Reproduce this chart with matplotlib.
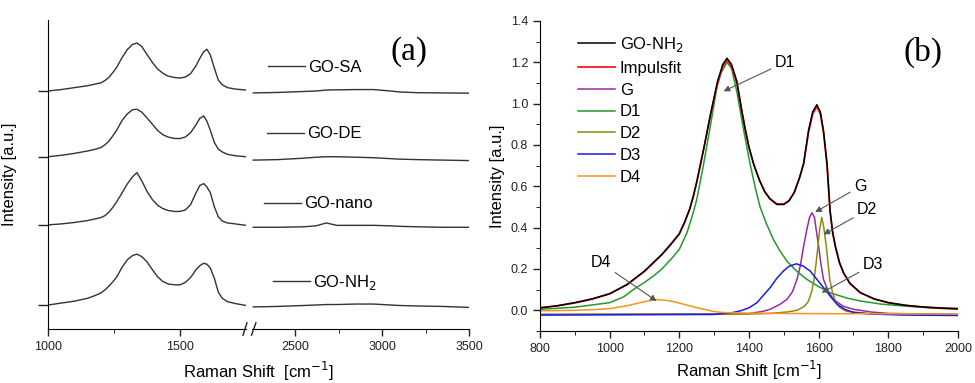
import matplotlib
matplotlib.use("Agg")
import matplotlib.pyplot as plt
from matplotlib.lines import Line2D

plt.rcParams['font.family'] = ['Liberation Sans', 'DejaVu Sans']

# ---- panel (a): stacked spectra, broken x axis ----
a_names = ['GO-SA', 'GO-DE', 'GO-nano', 'GO-NH$_2$']
a_offsets = [4.96, 3.59, 2.17, 0.5]

a_x_low = [1000, 1050, 1100, 1150, 1175, 1200, 1215, 1230, 1245, 1260, 1280, 1300,
           1320, 1337, 1355, 1375, 1395, 1415, 1435, 1455, 1480, 1500, 1520, 1540,
           1560, 1575, 1590, 1602, 1615, 1630, 1645, 1660, 1680, 1710, 1750]
a_sa_low = [0.0, 0.03, 0.07, 0.11, 0.14, 0.17, 0.215, 0.28, 0.38, 0.49, 0.69, 0.86,
            0.97, 1.0, 0.93, 0.76, 0.6, 0.46, 0.37, 0.31, 0.28, 0.27, 0.29, 0.36,
            0.52, 0.68, 0.82, 0.87, 0.75, 0.48, 0.23, 0.13, 0.07, 0.04, 0.02]
a_de_low = [0.0, 0.03, 0.07, 0.12, 0.15, 0.19, 0.245, 0.32, 0.43, 0.55, 0.75, 0.89,
            0.98, 0.99, 0.93, 0.81, 0.68, 0.55, 0.46, 0.41, 0.38, 0.38, 0.41, 0.5,
            0.66, 0.8, 0.85, 0.74, 0.55, 0.3, 0.16, 0.1, 0.05, 0.02, 0.0]
a_nano_low = [0.0, 0.02, 0.05, 0.09, 0.12, 0.15, 0.19, 0.26, 0.36, 0.48, 0.66, 0.85,
              1.0, 1.09, 0.92, 0.7, 0.53, 0.41, 0.34, 0.3, 0.28, 0.28, 0.31, 0.42,
              0.66, 0.82, 0.86, 0.79, 0.67, 0.38, 0.17, 0.08, 0.04, 0.02, -0.01]
a_nh2_low = [0.0, 0.04, 0.08, 0.14, 0.19, 0.25, 0.31, 0.39, 0.48, 0.58, 0.78, 0.94,
             1.03, 1.06, 1.01, 0.9, 0.74, 0.59, 0.49, 0.44, 0.42, 0.42, 0.47, 0.57,
             0.73, 0.82, 0.87, 0.85, 0.77, 0.56, 0.27, 0.14, 0.07, 0.03, -0.01]

a_x_high = [2260, 2400, 2550, 2620, 2680, 2740, 2850, 2950, 3050, 3100, 3200, 3350, 3500]
a_sa_high = [-0.04, -0.03, -0.01, 0.0, 0.02, 0.025, 0.03, 0.03, 0.0, -0.02, -0.035, -0.04, -0.045]
a_de_high = [-0.07, -0.06, -0.03, -0.01, 0.0, 0.0, -0.01, -0.02, -0.04, -0.05, -0.06, -0.07, -0.08]
a_nano_high = [-0.05, -0.05, -0.04, -0.02, 0.04, -0.01, -0.01, -0.01, -0.02, -0.03, -0.04, -0.05, -0.05]
a_nh2_high = [-0.04, -0.03, -0.01, 0.0, 0.01, 0.01, 0.02, 0.02, 0.0, -0.01, -0.02, -0.03, -0.05]

a_low = [a_sa_low, a_de_low, a_nano_low, a_nh2_low]
a_high = [a_sa_high, a_de_high, a_nano_high, a_nh2_high]

# ---- panel (b): GO-NH2 peak fit ----
b_x_data = [800, 850, 900, 950, 1000, 1050, 1100, 1150, 1175, 1200, 1215, 1230, 1240,
            1250, 1270, 1290, 1310, 1325, 1337, 1350, 1365, 1380, 1390, 1400, 1413,
            1430, 1445, 1460, 1480, 1500, 1515, 1530, 1545, 1557, 1571, 1583, 1595,
            1605, 1614, 1624, 1633, 1640, 1648, 1660, 1672, 1690, 1720, 1760,
            1800, 1850, 1900, 1950, 2000]
b_data = [0.012, 0.022, 0.037, 0.055, 0.08, 0.125, 0.19, 0.27, 0.318, 0.37, 0.425,
          0.49, 0.55, 0.62, 0.78, 0.95, 1.11, 1.19, 1.22, 1.19, 1.11, 0.96, 0.87,
          0.79, 0.71, 0.63, 0.575, 0.54, 0.512, 0.512, 0.53, 0.57, 0.64, 0.71, 0.87,
          0.96, 0.995, 0.96, 0.87, 0.71, 0.48, 0.38, 0.31, 0.23, 0.18, 0.13, 0.085,
          0.055, 0.037, 0.024, 0.016, 0.011, 0.008]
b_fit = [0.012, 0.022, 0.036, 0.055, 0.08, 0.124, 0.188, 0.27, 0.318, 0.37, 0.425,
         0.49, 0.55, 0.62, 0.78, 0.95, 1.1, 1.18, 1.21, 1.18, 1.1, 0.96, 0.87,
         0.79, 0.71, 0.63, 0.575, 0.54, 0.515, 0.515, 0.53, 0.57, 0.64, 0.71, 0.86,
         0.95, 0.985, 0.95, 0.86, 0.71, 0.48, 0.38, 0.31, 0.23, 0.18, 0.13, 0.085,
         0.055, 0.037, 0.024, 0.016, 0.011, 0.008]

b_x_d1 = [800, 900, 1000, 1040, 1068, 1100, 1126, 1150, 1183, 1200, 1222, 1237, 1250,
          1269, 1289, 1308, 1320, 1337, 1350, 1365, 1384, 1403, 1420, 1432, 1450,
          1470, 1490, 1509, 1540, 1566, 1600, 1633, 1680, 1720, 1780, 1844, 1920, 2000]
b_d1 = [0.005, 0.015, 0.037, 0.065, 0.1, 0.135, 0.166, 0.2, 0.26, 0.295, 0.375, 0.455,
        0.535, 0.7, 0.89, 1.08, 1.15, 1.2, 1.17, 1.06, 0.88, 0.71, 0.58, 0.5, 0.42,
        0.343, 0.285, 0.238, 0.185, 0.15, 0.115, 0.085, 0.06, 0.045, 0.03, 0.021,
        0.012, 0.005]

b_x_g = [800, 1300, 1400, 1440, 1461, 1490, 1509, 1525, 1538, 1548, 1557, 1566,
         1574, 1581, 1588, 1594, 1600, 1607, 1614, 1628, 1643, 1670, 1700, 1750, 1800, 2000]
b_g = [-0.02, -0.018, -0.016, -0.005, 0.005, 0.03, 0.053, 0.09, 0.15, 0.22, 0.31,
       0.39, 0.45, 0.472, 0.45, 0.38, 0.31, 0.22, 0.15, 0.09, 0.053, 0.02, 0.005,
       -0.008, -0.015, -0.02]

b_x_d2 = [800, 1400, 1461, 1510, 1538, 1560, 1571, 1580, 1587, 1593, 1598, 1603,
          1609, 1615, 1622, 1627, 1632, 1640, 1648, 1660, 1680, 1745, 2000]
b_d2 = [-0.02, -0.018, -0.015, -0.008, 0.0, 0.02, 0.045, 0.09, 0.15, 0.23, 0.31,
        0.39, 0.45, 0.4, 0.31, 0.23, 0.15, 0.085, 0.045, 0.015, -0.005, -0.016, -0.02]

b_x_d3 = [800, 1300, 1350, 1375, 1400, 1423, 1440, 1461, 1480, 1499, 1515, 1536,
          1555, 1576, 1595, 1614, 1635, 1653, 1675, 1700, 1750, 1850, 2000]
b_d3 = [-0.023, -0.02, -0.012, -0.003, 0.012, 0.037, 0.07, 0.11, 0.155, 0.19, 0.213,
        0.225, 0.215, 0.19, 0.15, 0.11, 0.065, 0.029, 0.005, -0.01, -0.018, -0.023, -0.025]

b_x_d4 = [800, 900, 950, 1000, 1050, 1100, 1135, 1170, 1200, 1250, 1300, 1327, 1400, 1600, 2000]
b_d4 = [-0.002, 0.0, 0.003, 0.008, 0.022, 0.042, 0.052, 0.047, 0.035, 0.013,
        -0.006, -0.011, -0.014, -0.016, -0.018]

b_labels = ['GO-NH$_2$', 'Impulsfit', 'G', 'D1', 'D2', 'D3', 'D4']
b_colors = ['#000000', '#ff1a1a', '#9a2aa0', '#239a2c', '#8c8c10', '#1a1aee', '#f7931e']

fig = plt.figure(figsize=(9.75, 3.83), dpi=100)

ax_lo = fig.add_axes([0.0492, 0.141, 0.2031, 0.8068])
ax_hi = fig.add_axes([0.258, 0.141, 0.2231, 0.8068])
for off, lo, hi in zip(a_offsets, a_low, a_high):
    ax_lo.plot(a_x_low, [v + off for v in lo], color='#333333', lw=1.0)
    ax_hi.plot(a_x_high, [v + off for v in hi], color='#333333', lw=1.0)

for ax in (ax_lo, ax_hi):
    ax.set_ylim(0, 6.44)
    ax.spines['top'].set_visible(False)
    ax.spines['right'].set_visible(False)
    ax.tick_params(direction='out', labelsize=9, width=1, colors='#222222')
    ax.tick_params(which='major', length=5)
    ax.tick_params(which='minor', length=3)
ax_lo.set_xlim(1000, 1750)
ax_hi.set_xlim(2250, 3500)
ax_lo.set_xticks([1000, 1500])
ax_lo.set_xticks([1250], minor=True)
ax_hi.set_xticks([2500, 3000, 3500])
ax_hi.set_xticks([2750, 3250], minor=True)
ax_lo.set_yticks(a_offsets)
ax_lo.set_yticklabels([])
ax_lo.tick_params(axis='y', length=7)
ax_hi.spines['left'].set_visible(False)
ax_hi.set_yticks([])
ax_lo.set_ylabel('Intensity [a.u.]', fontsize=12, labelpad=12)

# break marks
kw = dict(color='#222222', lw=1, clip_on=False)
ax_lo.plot([0.985, 1.005], [-0.02, 0.02], transform=ax_lo.transAxes, **kw)
ax_hi.plot([0.0, 0.02], [-0.02, 0.02], transform=ax_hi.transAxes, **kw)

fig.text(258.5 / 975, 1 - 371 / 383, 'Raman Shift  [cm$^{-1}$]', fontsize=12,
         ha='center', va='center')
fig.text(409 / 975, 1 - 52 / 383, '(a)', fontsize=24, family='Liberation Serif',
         ha='center', va='center')

# small legends next to each trace
a_leg_pos = [(268, 67), (267, 134), (264, 204), (273, 282)]
for name, (px, py) in zip(a_names, a_leg_pos):
    h = Line2D([], [], color='#333333', lw=1.0)
    fig.legend([h], [name], loc='center left',
               bbox_to_anchor=(px / 975, 1 - py / 383),
               frameon=False, fontsize=12, handlelength=2.2,
               handletextpad=0.2, borderpad=0, borderaxespad=0)

# ---- panel (b) ----
axb = fig.add_axes([0.5538, 0.1358, 0.4287, 0.8094])
b_series = [(b_x_data, b_data), (b_x_data, b_fit), (b_x_g, b_g), (b_x_d1, b_d1),
            (b_x_d2, b_d2), (b_x_d3, b_d3), (b_x_d4, b_d4)]
handles = []
for (xs, ys), lab, col in zip(b_series, b_labels, b_colors):
    lw = 1.3 if lab == 'Impulsfit' else 1.1
    ln, = axb.plot(xs, ys, color=col, lw=lw, label=lab)
    handles.append(ln)
# draw measured data above the fit
handles[0].set_zorder(3)
handles[1].set_zorder(2.5)

axb.set_xlim(800, 2000)
axb.set_ylim(-0.1, 1.4)
axb.set_xticks(range(800, 2001, 200))
axb.set_xticks(range(900, 2000, 200), minor=True)
axb.set_yticks([0.0, 0.2, 0.4, 0.6, 0.8, 1.0, 1.2, 1.4])
axb.set_yticks([-0.1, 0.1, 0.3, 0.5, 0.7, 0.9, 1.1, 1.3], minor=True)
axb.yaxis.set_major_formatter(matplotlib.ticker.FormatStrFormatter('%.1f'))
axb.spines['top'].set_visible(False)
axb.spines['right'].set_visible(False)
axb.tick_params(direction='out', labelsize=9, width=1, colors='#222222')
axb.tick_params(which='major', length=5)
axb.tick_params(which='minor', length=3)
axb.set_xlabel('Raman Shift [cm$^{-1}$]', fontsize=12, labelpad=3)
axb.set_ylabel('Intensity [a.u.]', fontsize=12, labelpad=4)

axb.legend(handles=handles, loc='upper left', bbox_to_anchor=(0.091, 0.955),
           frameon=False, fontsize=12, handlelength=2.2, handletextpad=0.3,
           labelspacing=0.41, borderpad=0, borderaxespad=0)

arrow = dict(arrowstyle='-|>', color='#555555', lw=0.8, mutation_scale=9,
             shrinkA=1, shrinkB=0)
b_notes = [('D1', (1504, 1.20), (1327, 1.06)),
           ('G', (1720, 0.60), (1590, 0.475)),
           ('D2', (1740, 0.486), (1614, 0.367)),
           ('D3', (1757, 0.222), (1609, 0.085)),
           ('D4', (975, 0.23), (1135, 0.045))]
for txt, tpos, ppos in b_notes:
    axb.annotate(txt, xy=ppos, xytext=tpos, fontsize=11.5, ha='center',
                 va='center', arrowprops=arrow)

fig.text(923 / 975, 1 - 52 / 383, '(b)', fontsize=24, family='Liberation Serif',
         ha='center', va='center')

fig.savefig('out.png', dpi=100)
